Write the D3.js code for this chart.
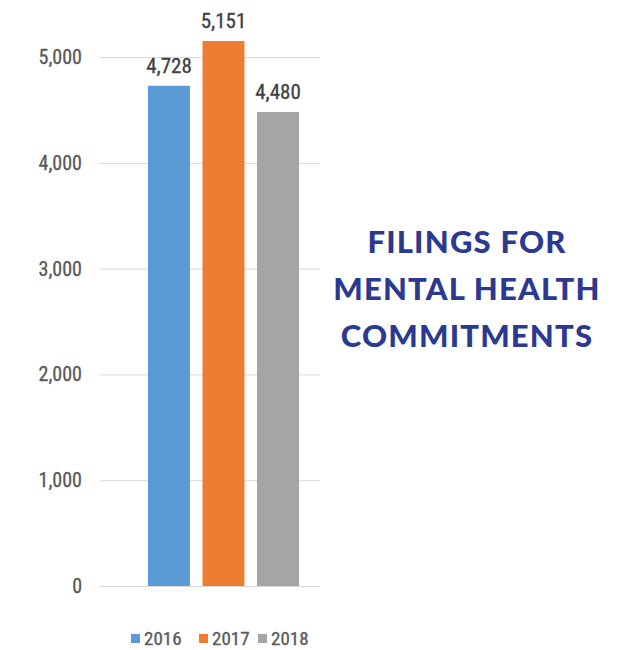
<!DOCTYPE html>
<html>
<head>
<meta charset="utf-8">
<script src="https://cdn.jsdelivr.net/npm/d3@7"></script>
<style>
  body { margin: 0; background: #fff; }
  svg { display: block; }
  .num { font-family: 'Roboto Condensed', 'Liberation Sans Narrow', 'DejaVu Sans Condensed', sans-serif; }
</style>
</head>
<body>
<svg id="chart" width="628" height="650"></svg>
<script>
// data
const years = ['2016', '2017', '2018'];
const filings = [4728, 5151, 4480];
const barColors = ['#5B9BD5', '#ED7D31', '#A5A5A5'];
const yTicks = [0, 1000, 2000, 3000, 4000, 5000];
const titleLines = ['FILINGS FOR', 'MENTAL HEALTH', 'COMMITMENTS'];

let svg = d3.select('#chart');

let plot = { left: 100, right: 320, top: 57, bottom: 586 };

let y = d3.scaleLinear()
  .domain([0, 5000])
  .range([plot.bottom, plot.top]);

let x = d3.scaleBand()
  .domain(years)
  .range([148, 299])
  .paddingInner(0.23)
  .paddingOuter(0);

// gridlines + tick labels
let yAxis = d3.axisLeft(y)
  .tickValues(yTicks)
  .tickSize(-(plot.right - plot.left))
  .tickPadding(18)
  .tickFormat(d3.format(','));

let axisG = svg.append('g')
  .attr('transform', `translate(${plot.left},0)`)
  .call(yAxis);

axisG.select('.domain').remove();
axisG.selectAll('.tick line')
  .attr('stroke', '#d9d9d9')
  .attr('stroke-width', 1);
axisG.selectAll('.tick text')
  .attr('class', 'num')
  .attr('fill', '#595959')
  .attr('stroke', '#595959')
  .attr('stroke-width', 0.3)
  .style('font-size', '20px');

// bars
svg.append('g').selectAll('rect')
  .data(filings)
  .enter().append('rect')
  .attr('x', (d, i) => x(years[i]))
  .attr('y', (d) => y(d))
  .attr('width', x.bandwidth())
  .attr('height', (d) => y(0) - y(d))
  .attr('fill', (d, i) => barColors[i]);

// value labels
svg.append('g').selectAll('text')
  .data(filings)
  .enter().append('text')
  .attr('class', 'num')
  .attr('x', (d, i) => x(years[i]) + x.bandwidth() / 2)
  .attr('y', (d) => y(d) - 13)
  .attr('text-anchor', 'middle')
  .attr('fill', '#404040')
  .attr('stroke', '#404040')
  .attr('stroke-width', 0.3)
  .style('font-size', '21px')
  .text((d) => d3.format(',')(d));

// legend
let legendX = [131, 199, 258];
let legend = svg.append('g').selectAll('g')
  .data(years)
  .enter().append('g')
  .attr('transform', (d, i) => `translate(${legendX[i]},638)`);

legend.append('rect')
  .attr('x', 0)
  .attr('y', -4)
  .attr('width', 9)
  .attr('height', 9)
  .attr('fill', (d, i) => barColors[i]);

legend.append('text')
  .attr('class', 'num')
  .attr('x', 13)
  .attr('y', 7)
  .attr('fill', '#595959')
  .attr('stroke', '#595959')
  .attr('stroke-width', 0.3)
  .style('font-size', '19px')
  .text((d) => d);

// title
svg.append('g').selectAll('text')
  .data(titleLines)
  .enter().append('text')
  .attr('x', 467)
  .attr('y', (d, i) => 253 + i * 47)
  .attr('text-anchor', 'middle')
  .attr('fill', '#2B3990')
  .style('font-family', 'Lato, sans-serif')
  .style('font-size', '31px')
  .style('font-weight', '900')
  .style('letter-spacing', '1.2px')
  .text((d) => d);
</script>
</body>
</html>
